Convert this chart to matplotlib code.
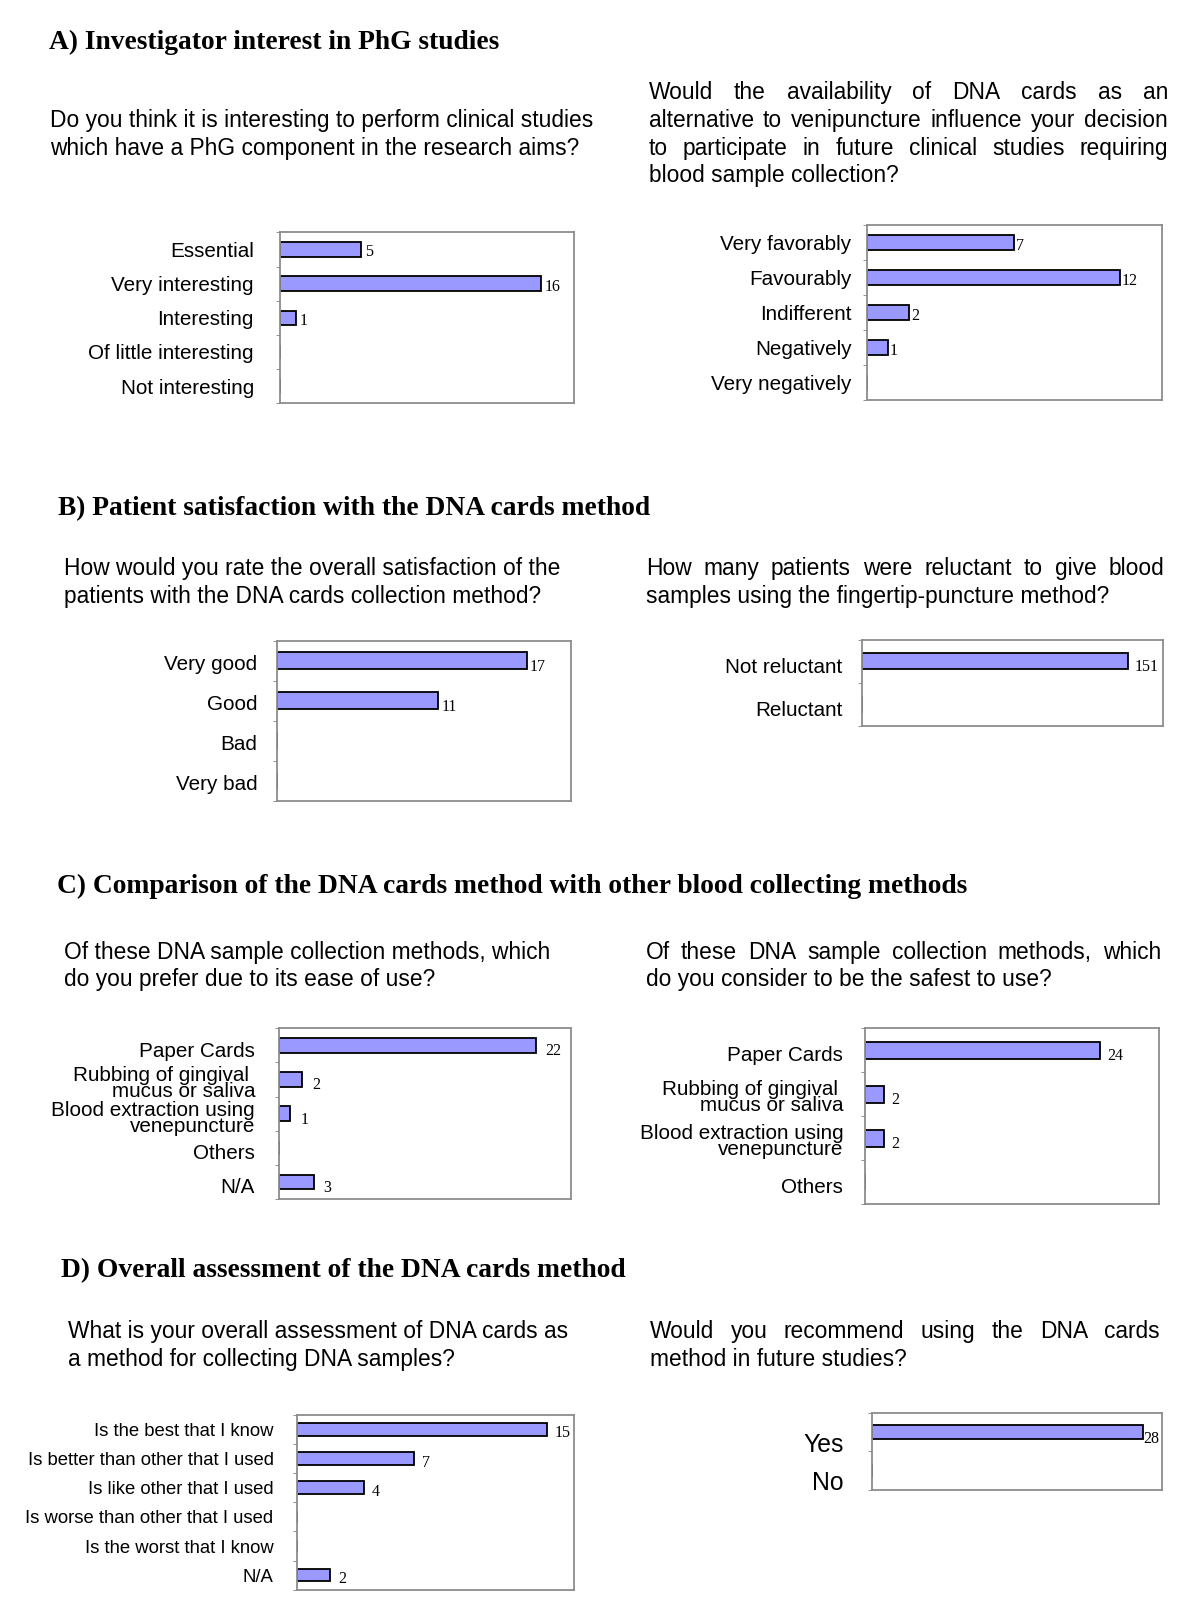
import matplotlib
matplotlib.use('Agg')
import matplotlib.pyplot as plt
import matplotlib.transforms as mt
from matplotlib.ticker import FixedLocator

W, H = 1200, 1612
S = 1200 / 1167  # positions were read on the shrunk picture

# data
a_left_cats = ['Essential', 'Very interesting', 'Interesting', 'Of little interesting', 'Not interesting']
a_left_vals = [5, 16, 1, 0, 0]
a_right_cats = ['Very favorably', 'Favourably', 'Indifferent', 'Negatively', 'Very negatively']
a_right_vals = [7, 12, 2, 1, 0]
b_left_cats = ['Very good', 'Good', 'Bad', 'Very bad']
b_left_vals = [17, 11, 0, 0]
b_right_cats = ['Not reluctant', 'Reluctant']
b_right_vals = [151, 0]
c_left_cats = ['Paper Cards', 'Rubbing of gingival \nmucus or saliva', 'Blood extraction using\nvenepuncture',
               'Others', 'N/A']
c_left_vals = [22, 2, 1, 0, 3]
c_right_cats = ['Paper Cards', 'Rubbing of gingival \nmucus or saliva', 'Blood extraction using\nvenepuncture',
                'Others']
c_right_vals = [24, 2, 2, 0]
d_left_cats = ['Is the best that I know', 'Is better than other that I used', 'Is like other that I used',
               'Is worse than other that I used', 'Is the worst that I know', 'N/A']
d_left_vals = [15, 7, 4, 0, 0, 2]
d_right_cats = ['Yes', 'No']
d_right_vals = [28, 0]

SANS = 'Liberation Sans'
SERIF = 'Liberation Serif'
BAR = '#9999ff'

fig = plt.figure(figsize=(12, 16.12), dpi=100)
renderer = fig.canvas.get_renderer()


def fx(x):
    return x * S / W


def fy(y):
    return 1 - y * S / H


def panel(box, cats, vals, xmax, labsize=14.9, pad=14, vpad=3, vdy=2, height=0.42, label_dy=0):
    x0, y0, x1, y1 = box
    ax = fig.add_axes([fx(x0), fy(y1), fx(x1) - fx(x0), fy(y0) - fy(y1)])
    n = len(cats)
    pos = list(range(n))
    ax.barh(pos, vals, height=height, color=BAR, edgecolor='black', linewidth=1.3)
    ax.set_xlim(0, xmax)
    ax.set_ylim(n - 0.5, -0.5)
    ax.set_xticks([])
    ax.set_yticks(pos)
    ax.set_yticklabels(cats, fontfamily=SANS, fontsize=labsize, linespacing=0.8)
    ax.tick_params(axis='y', which='major', length=0, pad=pad)
    ax.yaxis.set_minor_locator(FixedLocator([i + 0.5 for i in range(-1, n)]))
    ax.tick_params(axis='y', which='minor', length=3, color='#808080', direction='out')
    for sp in ax.spines.values():
        sp.set_color('#8c8c8c')
        sp.set_linewidth(1.3)
    if label_dy:
        off = mt.ScaledTranslation(0, -label_dy / 100, fig.dpi_scale_trans)
        for lab in ax.get_yticklabels():
            lab.set_transform(lab.get_transform() + off)
    for p, v in zip(pos, vals):
        if v:
            ax.annotate(str(v), (v, p), xytext=(vpad, -vdy), textcoords='offset pixels',
                        ha='left', va='center', fontfamily=SERIF, fontsize=11.5)
    return ax


def heading(x, y, s):
    fig.text(fx(x), fy(y), s, fontfamily=SERIF, fontweight='bold', fontsize=19.8, va='center', ha='left')


def question(x, y, lines, size=16.4, step=27):
    for i, line in enumerate(lines):
        fig.text(fx(x), fy(y + i * step), line, fontfamily=SANS, fontsize=size, va='center', ha='left')


def justified(x0, x1, y, lines, size=16.4, step=27):
    for i, line in enumerate(lines):
        yy = fy(y + i * step)
        if i == len(lines) - 1:
            fig.text(fx(x0), yy, line, fontfamily=SANS, fontsize=size, va='center', ha='left')
            continue
        words = line.split()
        texts = [fig.text(0, yy, w, fontfamily=SANS, fontsize=size, va='center', ha='left') for w in words]
        widths = [t.get_window_extent(renderer=renderer).width for t in texts]
        total = (x1 - x0) * S
        gap = (total - sum(widths)) / (len(words) - 1)
        cur = x0 * S
        for t, w in zip(texts, widths):
            t.set_x(cur / W)
            cur += w + gap


# A
heading(48, 41, 'A) Investigator interest in PhG studies')
question(49, 117, ['Do you think it is interesting to perform clinical studies',
                   'which have a PhG component in the research aims?'])
justified(631, 1136, 90, ['Would the availability of DNA cards as an',
                          'alternative to venipuncture influence your decision',
                          'to participate in future clinical studies requiring',
                          'blood sample collection?'])
panel((272, 226, 558, 392), a_left_cats, a_left_vals, 18, pad=18.5, vpad=4, vdy=3)
panel((843, 219, 1130, 389), a_right_cats, a_right_vals, 14, pad=11, vpad=2, vdy=3)

# B
heading(56, 495, 'B) Patient satisfaction with the DNA cards method')
question(62, 553, ['How would you rate the overall satisfaction of the',
                   'patients with the DNA cards collection method?'])
justified(628, 1132, 553, ['How many patients were reluctant to give blood',
                           'samples using the fingertip-puncture method?'])
panel((269, 623, 555, 779), b_left_cats, b_left_vals, 20, pad=14, vpad=3, vdy=6, label_dy=2)
panel((838, 622, 1131, 706), b_right_cats, b_right_vals, 171, pad=14, vpad=7, vdy=6, height=0.38, label_dy=4)

# C
heading(55, 862, 'C) Comparison of the DNA cards method with other blood collecting methods')
question(62, 926, ['Of these DNA sample collection methods, which',
                   'do you prefer due to its ease of use?'])
justified(628, 1129, 926, ['Of these DNA sample collection methods, which',
                           'do you consider to be the safest to use?'])
panel((271, 1000, 555, 1166), c_left_cats, c_left_vals, 25, pad=17, vpad=10, vdy=6, label_dy=4)
panel((841, 1000, 1127, 1171), c_right_cats, c_right_vals, 30, pad=15.5, vpad=7, vdy=6, height=0.38, label_dy=3)

# D
heading(59, 1236, 'D) Overall assessment of the DNA cards method')
question(66, 1295, ['What is your overall assessment of DNA cards as',
                    'a method for collecting DNA samples?'])
justified(632, 1128, 1295, ['Would you recommend using the DNA cards',
                            'method in future studies?'])
panel((289, 1376, 558, 1546), d_left_cats, d_left_vals, 16.6, labsize=13.3, pad=17, vpad=8, vdy=4, height=0.43)
panel((848, 1374, 1130, 1449), d_right_cats, d_right_vals, 30, labsize=17.8, pad=20.5, vpad=1, vdy=7,
      height=0.35, label_dy=10)

fig.savefig('out.png', dpi=100)
